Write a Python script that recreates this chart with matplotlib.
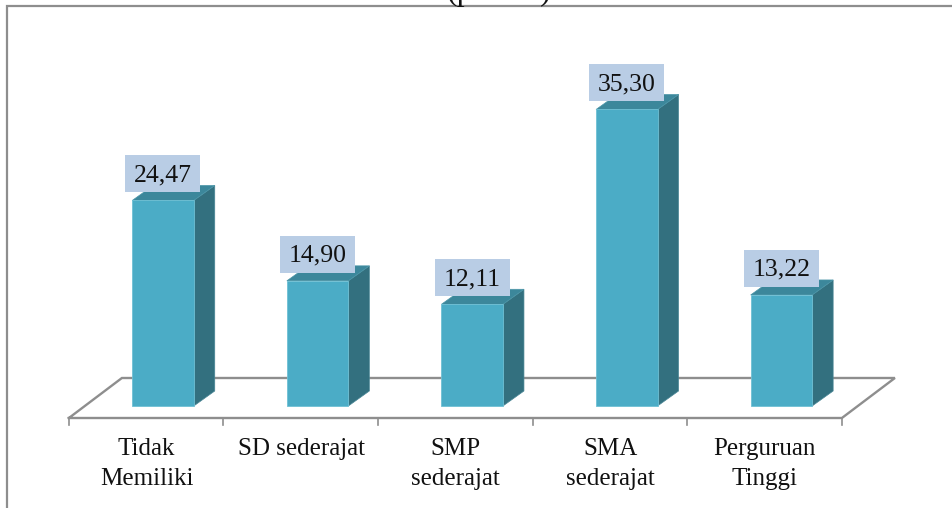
import matplotlib
matplotlib.use("Agg")
import matplotlib.pyplot as plt
from matplotlib.patches import Polygon, Rectangle

categories = ["Tidak\nMemiliki", "SD sederajat", "SMP\nsederajat", "SMA\nsederajat", "Perguruan\nTinggi"]
values = [24.47, 14.90, 12.11, 35.30, 13.22]
labels = ["24,47", "14,90", "12,11", "35,30", "13,22"]

FONT = ["Liberation Serif", "DejaVu Serif"]
W, H = 952, 508
fig = plt.figure(figsize=(W / 100, H / 100), dpi=100, facecolor="white")
ax = fig.add_axes([0, 0, 1, 1])
ax.set_axis_off()

# scales: one category = 154.6 px, one percent = 8.4 px
ux, uy = 154.6, 8.4
x0_px, y0_px = 146.5, 406
ax.set_xlim((0 - x0_px) / ux, (W - x0_px) / ux)
ax.set_ylim((y0_px - H) / uy, y0_px / uy)
px = lambda n: n / ux
py = lambda n: n / uy

GRAY = "#8E8E8E"
FRONT, SIDE, TOP = "#4BACC6", "#33707F", "#3C879B"

# floor
n = len(values)
fl, fr = -0.5 + px(-0.3), n - 0.5 + px(-0.3)
fy = py(-12)
ddx, ddy = px(53), py(40)
ax.plot([fl, fr, fr + ddx, fl + ddx, fl], [fy, fy, fy + ddy, fy + ddy, fy],
        color=GRAY, lw=1.7, solid_joinstyle="miter", zorder=1)
for i in range(n + 1):
    xt = fl + i
    ax.plot([xt, xt], [fy, fy - py(7)], color=GRAY, lw=1.2, zorder=1)

# bars
off = px(16.5)
bw = px(61.5)
dx, dy = px(21), py(15)
for i, v in enumerate(values):
    c = i + off
    l, r = c - bw / 2, c + bw / 2
    ax.bar(c, v, width=bw, color=FRONT, edgecolor="#6FC0D4", linewidth=0.6, zorder=3)
    ax.add_patch(Polygon([(r, 0), (r + dx, dy), (r + dx, v + dy), (r, v)],
                         fc=SIDE, ec="#4A8796", lw=0.5, zorder=2))
    ax.add_patch(Polygon([(l, v), (r, v), (r + dx, v + dy), (l + dx, v + dy)],
                         fc=TOP, ec="#4A95A8", lw=0.5, zorder=2))
    yc = v + py(26.5)
    ax.add_patch(Rectangle((c - px(37.5), yc - py(18.5)), px(75), py(37),
                           fc="#B9CDE5", ec="none", zorder=4))
    ax.text(c, yc - py(1.5), labels[i], ha="center", va="center", fontsize=18.5,
            family=FONT, color="#111111", zorder=5)
    ax.text(i, fy - py(20), categories[i], ha="center", va="top", fontsize=18,
            family=FONT, color="#111111", linespacing=1.47, zorder=5)

# chart frame
ax.plot([px(7 - x0_px) , px(7 - x0_px), px(W - x0_px)],
        [py(y0_px - H), py(y0_px - 6), py(y0_px - 6)],
        color=GRAY, lw=1.6, solid_joinstyle="miter", zorder=1, clip_on=False)

# title, cut by the top of the image
ax.text(2 + px(43), py(y0_px + 0), "(persen)", ha="center", va="baseline",
        fontsize=23, family=FONT, color="#111111", clip_on=False)

fig.savefig("out.png", dpi=100, facecolor="white")
